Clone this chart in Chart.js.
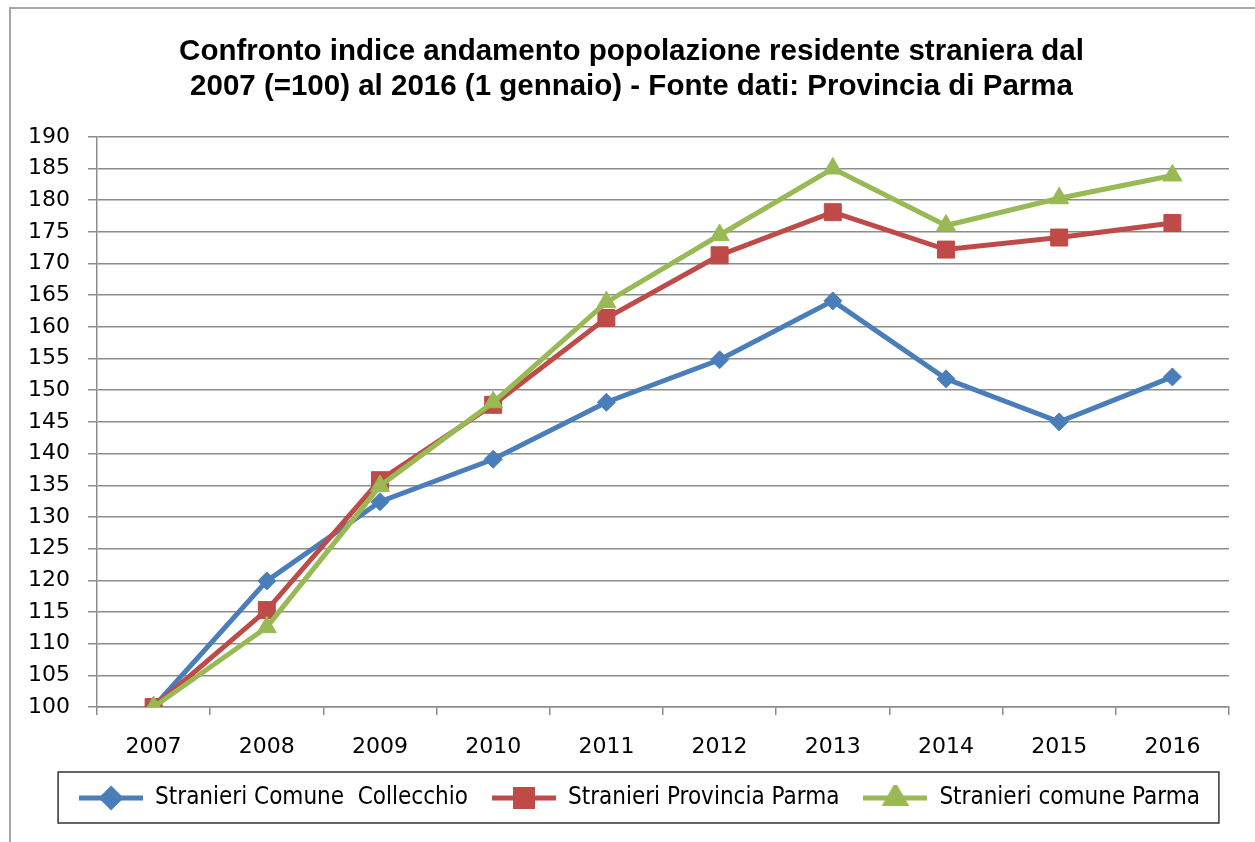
<!DOCTYPE html>
<html>
<head>
<meta charset="utf-8">
<script src="https://cdn.jsdelivr.net/npm/chart.js@4/dist/chart.umd.min.js"></script>
<style>
    html, body { margin: 0; padding: 0; background: #fff; overflow: hidden; }
    #frame { position: absolute; left: 9px; top: 7px; width: 1400px; height: 1000px; border: 2px solid #a6a6a6; }
    #wrap { position: absolute; left: 0; top: 0; width: 1255px; height: 842px; }
</style>
</head>
<body>
<div id="frame"></div>
<div id="wrap"><canvas id="popChart"></canvas></div>
<script>
// ===========================
// Data
// ===========================

const years = ['2007', '2008', '2009', '2010', '2011', '2012', '2013', '2014', '2015', '2016'];
const comuneCollecchio = [100, 119.9, 132.4, 139.1, 148.1, 154.8, 164.1, 151.8, 145.0, 152.1];
const provinciaParma = [100, 115.3, 135.8, 147.7, 161.4, 171.3, 178.1, 172.2, 174.1, 176.4];
const comuneParma = [100, 112.6, 134.9, 148.1, 163.9, 174.5, 185.0, 176.0, 180.3, 183.9];
const seriesNames = ['Stranieri Comune  Collecchio', 'Stranieri Provincia Parma', 'Stranieri comune Parma'];
const yMin = 100, yMax = 190, yStep = 5;

const BLUE = '#4a7ebb';
const RED = '#be4b48';
const GREEN = '#98b954';

// legend icon: short line with the marker in the middle
function makeLegendIcon(color, style, radius) {
    const c = document.createElement('canvas');
    c.width = 64;
    c.height = 26;
    const g = c.getContext('2d');
    g.strokeStyle = color;
    g.lineWidth = 5;
    g.beginPath();
    g.moveTo(0, 13);
    g.lineTo(64, 13);
    g.stroke();
    g.fillStyle = color;
    g.strokeStyle = color;
    Chart.helpers.drawPoint(g, { pointStyle: style, radius: radius, rotation: 0, borderWidth: 1 }, 32, 13);
    return c;
}

// Excel centres title and legend on the whole frame, not on the plot column
const shiftBlocksPlugin = {
    id: 'shiftBlocks',
    afterLayout(chart) {
        chart.legend.left += 25;
        chart.legend.right += 25;
        chart.titleBlock.left += 17;
        chart.titleBlock.right += 17;
    }
};

// box round the legend, like the Excel one
const legendBoxPlugin = {
    id: 'legendBox',
    afterDraw(chart) {
        const boxes = chart.legend.legendHitBoxes;
        if (!boxes || !boxes.length) return;
        const left = Math.min(...boxes.map(b => b.left)) - 21;
        const right = Math.max(...boxes.map(b => b.left + b.width)) + 19;
        const top = Math.min(...boxes.map(b => b.top)) - 14;
        const bottom = Math.max(...boxes.map(b => b.top + b.height)) + 13;
        const ctx = chart.ctx;
        ctx.save();
        ctx.strokeStyle = '#333';
        ctx.lineWidth = 1.5;
        ctx.strokeRect(left, top, right - left, bottom - top);
        ctx.restore();
    }
};

const styles = [
    { color: BLUE, style: 'rectRot', radius: 9 },
    { color: RED, style: 'rect', radius: 12 },
    { color: GREEN, style: 'triangle', radius: 11 }
];
const seriesData = [comuneCollecchio, provinciaParma, comuneParma];

const datasets = seriesData.map((values, i) => ({
    label: seriesNames[i],
    data: values,
    borderColor: styles[i].color,
    backgroundColor: styles[i].color,
    borderWidth: 5,
    pointStyle: styles[i].style,
    pointRadius: styles[i].radius,
    pointBorderWidth: 1,
    tension: 0,
    order: 3 - i
}));

const yTicks = [];
for (let v = yMin; v <= yMax; v += yStep) yTicks.push(v);

new Chart(document.getElementById('popChart'), {
    type: 'line',
    data: { labels: years, datasets: datasets },
    plugins: [shiftBlocksPlugin, legendBoxPlugin],
    options: {
        responsive: true,
        maintainAspectRatio: false,
        animation: false,
        layout: { padding: { left: 0, right: 26, top: 0, bottom: 22 } },
        plugins: {
            title: {
                display: true,
                text: ['Confronto indice andamento popolazione residente straniera dal',
                       '2007 (=100) al 2016 (1 gennaio) - Fonte dati: Provincia di Parma'],
                color: '#000',
                font: { family: 'Liberation Sans', size: 29.5, weight: 'bold', lineHeight: 1.2 },
                padding: { top: 34, bottom: 32 }
            },
            legend: {
                position: 'bottom',
                labels: {
                    usePointStyle: true,
                    pointStyleWidth: 64,
                    boxHeight: 24,
                    padding: 24,
                    color: '#000',
                    font: { family: 'DejaVu Sans Condensed', size: 24 },
                    generateLabels(chart) {
                        return chart.data.datasets.map((ds, i) => ({
                            text: ds.label,
                            pointStyle: makeLegendIcon(styles[i].color, styles[i].style, styles[i].radius),
                            fillStyle: ds.borderColor,
                            strokeStyle: ds.borderColor,
                            lineWidth: 0,
                            hidden: false,
                            datasetIndex: i
                        }));
                    }
                }
            },
            tooltip: { enabled: false }
        },
        scales: {
            x: {
                offset: true,
                afterFit(scale) {
                    scale.height = 55;
                },
                grid: {
                    offset: true,
                    drawOnChartArea: false,
                    drawTicks: true,
                    tickLength: 8,
                    color: '#8c8c8c',
                    lineWidth: 1.5
                },
                border: { color: '#8c8c8c', width: 1.5 },
                ticks: {
                    color: '#000',
                    padding: 19,
                    font: { family: 'DejaVu Sans', size: 22 }
                }
            },
            y: {
                min: yMin,
                max: yMax,
                afterBuildTicks(scale) {
                    scale.ticks = yTicks.map(v => ({ value: v }));
                },
                afterFit(scale) {
                    scale.width = 97;
                },
                grid: {
                    color: '#8c8c8c',
                    lineWidth: 1.5,
                    tickLength: 9
                },
                border: { color: '#8c8c8c', width: 1.5 },
                ticks: {
                    color: '#000',
                    padding: 18,
                    font: { family: 'DejaVu Sans', size: 22 }
                }
            }
        }
    }
});
</script>
</body>
</html>
